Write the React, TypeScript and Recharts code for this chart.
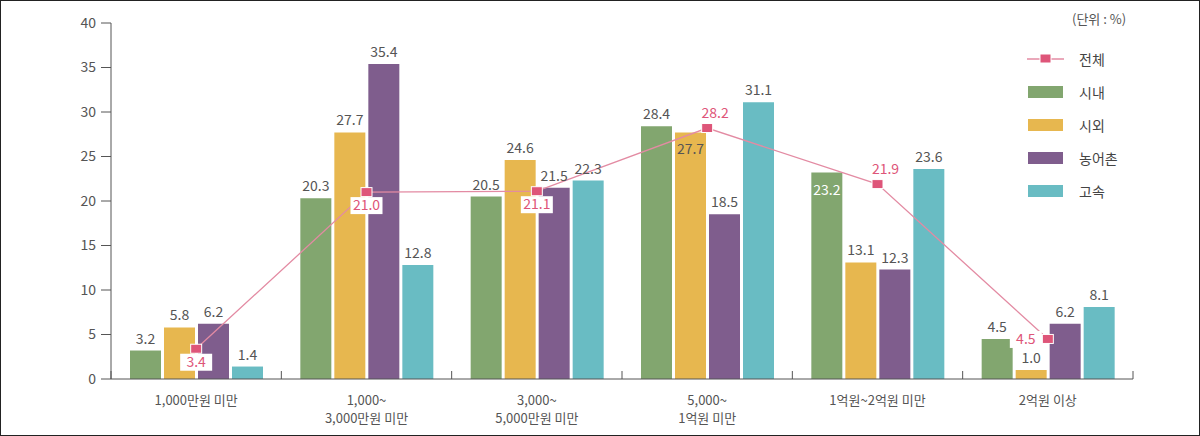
import React from "react";
import {
  ComposedChart,
  Bar,
  Line,
  XAxis,
  YAxis,
  LabelList,
} from "recharts";

const categories = [
  "1,000만원 미만",
  "1,000~|3,000만원 미만",
  "3,000~|5,000만원 미만",
  "5,000~|1억원 미만",
  "1억원~2억원 미만",
  "2억원 이상",
];
const city = [3.2, 20.3, 20.5, 28.4, 23.2, 4.5];
const intercity = [5.8, 27.7, 24.6, 27.7, 13.1, 1.0];
const rural = [6.2, 35.4, 21.5, 18.5, 12.3, 6.2];
const express = [1.4, 12.8, 22.3, 31.1, 23.6, 8.1];
const total = [3.4, 21.0, 21.1, 28.2, 21.9, 4.5];
const yTicks = [0, 5, 10, 15, 20, 25, 30, 35, 40];

// where the 전체 labels sit relative to the marker
const totalLabelPos = ["below", "below", "below", "above", "above", "left"];

const FONT = '"Noto Sans CJK KR", "Noto Sans", sans-serif';
const TEXT = "#555";
const PINK_LINE = "#e38ba3";
const PINK = "#de5579";

const SERIES = [
  { key: "시내", values: city, color: "#82a66f" },
  { key: "시외", values: intercity, color: "#e7b74f" },
  { key: "농어촌", values: rural, color: "#7f5d8d" },
  { key: "고속", values: express, color: "#69bcc3" },
];

const data = categories.map((c, i) => {
  const row: Record<string, number | string> = { name: c, 전체: total[i] };
  SERIES.forEach((s) => {
    row[s.key] = s.values[i];
  });
  return row;
});

const W = 1200;
const H = 436;
const MARGIN = { top: 23, right: 67, bottom: 17, left: 61 };
const Y_W = 50;
const BAND = (W - MARGIN.left - Y_W - MARGIN.right) / categories.length;

// label overrides: series key -> index -> style
const barLabelMode: Record<string, Record<number, string>> = {
  시외: { 3: "inside" },
  시내: { 4: "insideWhite" },
};

function XTick(props: any) {
  const { x, y, payload, index } = props;
  const lines = String(payload.value).split("|");
  const left = x - BAND / 2;
  return (
    <g>
      <line x1={left} x2={left} y1={y} y2={y - 8} stroke="#555" />
      {index === categories.length - 1 && (
        <line x1={x + BAND / 2} x2={x + BAND / 2} y1={y} y2={y - 8} stroke="#555" />
      )}
      {lines.map((l, i) => (
        <text
          key={i}
          x={x}
          y={y + 26 + i * 18}
          textAnchor="middle"
          fontSize={13}
          fill={TEXT}
          fontFamily={FONT}
        >
          {l}
        </text>
      ))}
    </g>
  );
}

function makeBarLabel(key: string) {
  return (props: any) => {
    const { x, y, width, value, index } = props;
    const mode = barLabelMode[key]?.[index];
    const cx = x + width / 2;
    if (mode === "inside" || mode === "insideWhite") {
      return (
        <text
          x={cx}
          y={y + 22}
          textAnchor="middle"
          fontSize={14}
          fill={mode === "insideWhite" ? "#fff" : TEXT}
          fontFamily={FONT}
        >
          {Number(value).toFixed(1)}
        </text>
      );
    }
    return (
      <text
        x={cx}
        y={y - 7}
        textAnchor="middle"
        fontSize={14}
        fill={TEXT}
        fontFamily={FONT}
      >
        {Number(value).toFixed(1)}
      </text>
    );
  };
}

function TotalDot(props: any) {
  const { cx, cy } = props;
  if (cx == null || cy == null) return null;
  return <rect x={cx - 5.5} y={cy - 4.5} width={11} height={9} fill={PINK} stroke="#fff" strokeWidth={1} />;
}

function TotalLabel(props: any) {
  const { x, y, value, index } = props;
  const pos = totalLabelPos[index];
  const txt = Number(value).toFixed(1);
  let tx = x;
  let ty = y;
  if (pos === "below") {
    ty = y + 18;
  } else if (pos === "above") {
    tx = x + 8;
    ty = y - 10;
  } else {
    tx = x - 22;
    ty = y + 5;
  }
  return (
    <g>
      {pos !== "above" && (
        <rect x={tx - 16} y={ty - 13} width={32} height={17} fill="#fff" />
      )}
      <text x={tx} y={ty} textAnchor="middle" fontSize={14} fill={PINK} fontFamily={FONT}>
        {txt}
      </text>
    </g>
  );
}

function LegendBox() {
  return (
    <div style={{ fontFamily: FONT, fontSize: 14, color: "#444" }}>
      <div style={{ display: "flex", alignItems: "center", height: 33 }}>
        <svg width={40} height={14}>
          <line x1={0} x2={37} y1={7} y2={7} stroke={PINK_LINE} strokeWidth={1.5} />
          <rect x={13} y={2} width={11} height={9} fill={PINK} stroke="#fff" />
        </svg>
        <span style={{ marginLeft: 12 }}>전체</span>
      </div>
      {SERIES.map((s) => (
        <div key={s.key} style={{ display: "flex", alignItems: "center", height: 33 }}>
          <div style={{ width: 35, height: 12, background: s.color, marginLeft: 1, marginRight: 16 }} />
          <span>{s.key}</span>
        </div>
      ))}
    </div>
  );
}

export default function App() {
  return (
    <div
      style={{
        position: "absolute",
        left: 0,
        top: 0,
        width: W,
        height: H,
        background: "#fff",
        border: "1px solid #222",
        boxSizing: "border-box",
        overflow: "hidden",
      }}
    >
      <div style={{ position: "absolute", left: -1, top: -1 }}>
        <ComposedChart width={W} height={H} data={data} margin={MARGIN} barSize={31} barGap={3}>
          <XAxis
            dataKey="name"
            tickLine={false}
            tickSize={0}
            tickMargin={0}
            axisLine={{ stroke: "#555" }}
            tick={<XTick />}
            interval={0}
            height={40}
          />
          <YAxis
            width={Y_W}
            domain={[0, 40]}
            ticks={yTicks}
            interval={0}
            tickSize={10}
            tickMargin={5}
            axisLine={{ stroke: "#555" }}
            tickLine={{ stroke: "#555" }}
            tick={{ fontSize: 14, fill: TEXT, fontFamily: FONT }}
          />
          {SERIES.map((s) => (
            <Bar key={s.key} dataKey={s.key} fill={s.color} isAnimationActive={false}>
              <LabelList dataKey={s.key} content={makeBarLabel(s.key)} />
            </Bar>
          ))}
          <Line
            dataKey="전체"
            stroke={PINK_LINE}
            strokeWidth={1.3}
            dot={<TotalDot />}
            activeDot={false}
            isAnimationActive={false}
          >
            <LabelList dataKey="전체" content={<TotalLabel />} />
          </Line>
        </ComposedChart>
      </div>
      <div
        style={{
          position: "absolute",
          left: 1071,
          top: 8,
          fontFamily: FONT,
          fontSize: 13,
          color: TEXT,
        }}
      >
        (단위 : %)
      </div>
      <div style={{ position: "absolute", left: 1026, top: 41 }}>
        <LegendBox />
      </div>
    </div>
  );
}
